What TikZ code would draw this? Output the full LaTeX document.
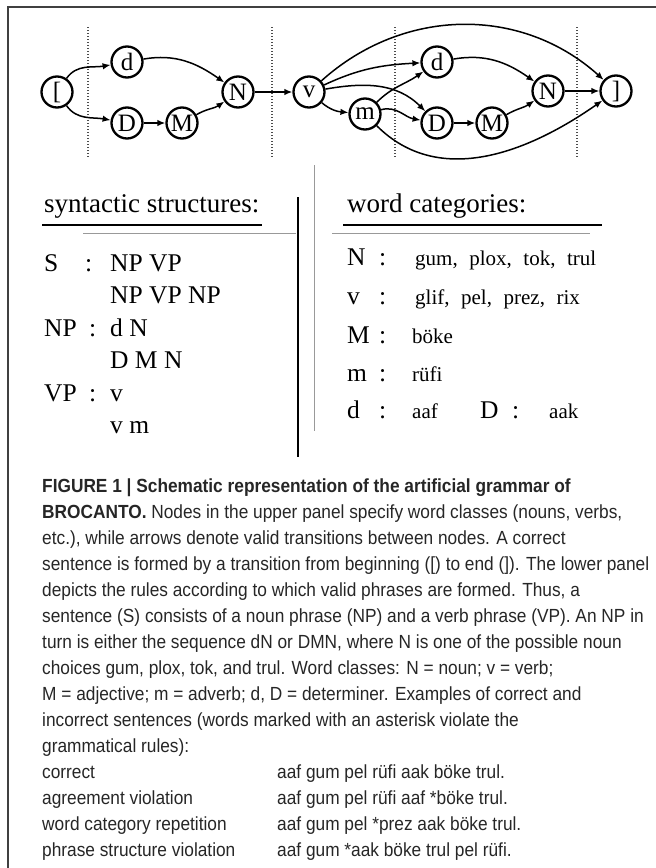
\documentclass[tikz,border=0pt]{standalone}
\usepackage{fontspec}
\setmainfont{Liberation Serif}
\newfontfamily\capfont{Liberation Sans}[FakeStretch=0.91]
\usetikzlibrary{arrows.meta}
\newcommand\wsp{\hspace{0.55em}}
\begin{document}
\begin{tikzpicture}[x=1pt,y=1pt,
  state/.style={circle,draw,line width=2.3pt,minimum size=31pt,inner sep=0pt,
    font=\fontsize{25}{25}\selectfont},
  edge/.style={line width=1.5pt,-{Latex[length=8pt,width=6.5pt]}},
  guide/.style={line width=1.3pt,black!70,dash pattern=on 1.2pt off 1.8pt},
  heavy/.style={line width=2.6pt},
  light/.style={line width=1pt,black!40},
  hdr/.style={anchor=base west,inner sep=0pt,font=\fontsize{27}{30}\selectfont},
  rulet/.style={anchor=base west,inner sep=0pt,font=\fontsize{25.5}{30}\selectfont},
  wordt/.style={anchor=base west,inner sep=0pt,font=\fontsize{21}{24}\selectfont},
  capt/.style={anchor=base west,inner sep=0pt,font=\capfont\fontsize{19}{24}\selectfont,text=black!85}
]
\useasboundingbox (0,0) rectangle (656,-868);

% outer frame (top and left sides)
\draw[line width=1.5pt,black!75] (8,-868) -- (8,-7) -- (656,-7);

% dotted phrase boundaries
\foreach \gx in {88,272,395,577}
  \draw[guide] (\gx,-27) -- (\gx,-158);

% finite-state graph
\node[state] (bg) at (57,-92)  {[};
\node[state] (d1) at (127,-62) {d};
\node[state] (D1) at (127,-123) {D};
\node[state] (M1) at (182,-123) {M};
\node[state] (N1) at (238,-92) {N};
\node[state] (v)  at (309,-92) {v};
\node[state] (m)  at (365,-114) {m};
\node[state] (d2) at (437,-62) {d};
\node[state] (D2) at (437,-123) {D};
\node[state] (M2) at (492,-123) {M};
\node[state] (N2) at (548,-91) {N};
\node[state] (en) at (616,-91) {]};

\draw[edge] (bg) to[out=55,in=190] (d1);
\draw[edge] (bg) to[out=-55,in=170] (D1);
\draw[edge] (d1) to[out=10,in=145] (N1);
\draw[edge] (D1) -- (M1);
\draw[edge] (M1) to[out=30,in=215] (N1);
\draw[edge] (N1) -- (v);
\draw[edge] (v) to[out=42,in=138] (en);
\draw[edge] (v) to[out=25,in=183] (d2);
\draw[edge] (v) to[out=10,in=135] (D2);
\draw[edge] (v) to[out=-40,in=175] (m);
\draw[edge] (m) to[out=45,in=215] (d2);
\draw[edge] (m) to[out=15,in=170] (D2);
\draw[edge] (m) to[out=-45,in=215] (en);
\draw[edge] (d2) to[out=10,in=145] (N2);
\draw[edge] (D2) -- (M2);
\draw[edge] (M2) to[out=30,in=215] (N2);
\draw[edge] (N2) -- (en);

% rule panels
\node[hdr] (hs) at (44,-212) {syntactic structures:};
\draw[heavy] (42,-225) -- (262,-225);
\draw[light] (83,-233) -- (296,-233);
\draw[heavy] (298,-197) -- (298,-457);
\draw[light] (314,-165) -- (314,-431);
\node[hdr] (hw) at (347,-212) {word categories:};
\draw[heavy] (343,-225) -- (602,-225);
\draw[light] (332,-233) -- (590,-233);

\node[rulet] (rS)  at (44,-271) {S};
\node[rulet] (cS)  at (85,-271) {:};
\node[rulet] (rS1) at (110,-271) {NP VP};
\node[rulet] (rS2) at (110,-303.5) {NP VP NP};
\node[rulet] (rN)  at (44,-336) {NP};
\node[rulet] (cN)  at (89,-336) {:};
\node[rulet] (rN1) at (110,-336) {d N};
\node[rulet] (rN2) at (110,-368.5) {D M N};
\node[rulet] (rV)  at (44,-401) {VP};
\node[rulet] (cV)  at (89,-401) {:};
\node[rulet] (rV1) at (110,-401) {v};
\node[rulet] (rV2) at (110,-433.5) {v m};

\node[rulet] (kN) at (347,-265) {N};
\node[rulet] (qN) at (379,-265) {:};
\node[wordt] (wN) at (415,-265) {gum,\wsp plox,\wsp tok,\wsp trul};
\node[rulet] (kv) at (347,-304) {v};
\node[rulet] (qv) at (379,-304) {:};
\node[wordt] (wv) at (415,-304) {glif,\wsp pel,\wsp prez,\wsp rix};
\node[rulet] (kM) at (347,-343) {M};
\node[rulet] (qM) at (379,-343) {:};
\node[wordt] (wM) at (412,-343) {böke};
\node[rulet] (km) at (347,-381) {m};
\node[rulet] (qm) at (379,-381) {:};
\node[wordt] (wm) at (412,-381) {rüfi};
\node[rulet] (kd) at (347,-418) {d};
\node[rulet] (qd) at (379,-418) {:};
\node[wordt] (wd) at (412,-418) {aaf};
\node[rulet] (kD) at (480,-418) {D};
\node[rulet] (qD) at (512,-418) {:};
\node[wordt] (wD) at (549,-418) {aak};

% caption
\node[capt] (c1)  at (42,-492) {\bfseries FIGURE 1 | Schematic representation of the artificial grammar of};
\node[capt] (c2)  at (42,-518) {\textbf{BROCANTO.} Nodes in the upper panel specify word classes (nouns, verbs,};
\node[capt] (c3)  at (42,-544) {etc.), while arrows denote valid transitions between nodes. A correct};
\node[capt] (c4)  at (42,-570) {sentence is formed by a transition from beginning ([) to end (]). The lower panel};
\node[capt] (c5)  at (42,-596) {depicts the rules according to which valid phrases are formed. Thus, a};
\node[capt] (c6)  at (42,-622) {sentence (S) consists of a noun phrase (NP) and a verb phrase (VP). An NP in};
\node[capt] (c7)  at (42,-648) {turn is either the sequence dN or DMN, where N is one of the possible noun};
\node[capt] (c8)  at (42,-674) {choices gum, plox, tok, and trul. Word classes: N = noun; v = verb;};
\node[capt] (c9)  at (42,-700) {M = adjective; m = adverb; d, D = determiner. Examples of correct and};
\node[capt] (c10) at (42,-726) {incorrect sentences (words marked with an asterisk violate the};
\node[capt] (c11) at (42,-752) {grammatical rules):};
\node[capt] (e1)  at (42,-778) {correct};
\node[capt] (x1)  at (277,-778) {aaf gum pel rüfi aak böke trul.};
\node[capt] (e2)  at (42,-804) {agreement violation};
\node[capt] (x2)  at (277,-804) {aaf gum pel rüfi aaf *böke trul.};
\node[capt] (e3)  at (42,-830) {word category repetition};
\node[capt] (x3)  at (277,-830) {aaf gum pel *prez aak böke trul.};
\node[capt] (e4)  at (42,-856) {phrase structure violation};
\node[capt] (x4)  at (277,-856) {aaf gum *aak böke trul pel rüfi.};
\end{tikzpicture}
\end{document}
